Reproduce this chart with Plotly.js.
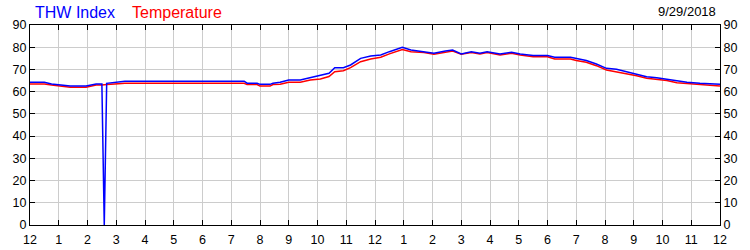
<!DOCTYPE html>
<html>
<head>
<meta charset="utf-8">
<script src="https://cdn.plot.ly/plotly-3.0.1.min.js"></script>
<style>html,body{margin:0;padding:0;background:#fff;}#chart{width:750px;height:250px;}</style>
</head>
<body>
<div id="chart"></div>
<script>
// hours since midnight
const hours = [0, 0.5, 0.75, 1.15, 1.4, 1.95, 2.15, 2.3, 2.5, 2.583, 2.667, 2.95, 3.3, 7.45, 7.55, 7.9, 8.0, 8.35, 8.45, 8.7,
  9.0, 9.4, 9.75, 10.1, 10.4, 10.6, 10.9, 11.15, 11.5, 11.85, 12.2, 12.5, 12.95, 13.25, 13.7, 14.05, 14.45, 14.7, 15.0, 15.35,
  15.65, 15.9, 16.35, 16.75, 17.05, 17.5, 18.0, 18.25, 18.8, 19.0, 19.35, 19.7, 20.05, 20.4, 20.75, 21.1, 21.45, 21.8, 22.15, 22.5,
  22.85, 23.3, 23.75, 24];
const thwIndex = [64.2, 64.2, 63.45, 63, 62.55, 62.55, 63, 63.45, 63.45, 0, 63.75, 64.2, 64.7, 64.7, 63.8, 63.8, 63.3, 63.3, 63.8, 64.2,
  65.25, 65.25, 66.3, 67.2, 68.3, 70.8, 70.8, 72, 75, 76, 76.5, 78, 80, 78.75, 78, 77.25, 78.3, 78.75, 77, 78,
  77.25, 78, 77, 77.7, 77, 76.3, 76.3, 75.5, 75.5, 74.9, 74, 72.45, 70.5, 70.1, 69, 68, 66.75, 66.3, 65.6, 65,
  64.2, 63.75, 63.45, 63.3];
const temperature = [63.45, 63.45, 63, 62.25, 62, 62, 62.55, 63, 63, 63, 63.2, 63.45, 63.8, 63.8, 63.2, 63.2, 62.5, 62.5, 63.2, 63.3,
  64.2, 64.2, 65.25, 65.7, 66.8, 69, 69.4, 70.8, 73.5, 74.7, 75.5, 77, 79, 78, 77.6, 76.8, 77.7, 78.3, 76.8, 77.6,
  77, 77.6, 76.5, 77.25, 76.5, 75.75, 75.75, 74.7, 74.7, 74, 73.2, 71.7, 69.75, 69, 68.25, 67.2, 66, 65.6, 65, 64.05,
  63.75, 63.3, 62.7, 62.5];
const xTickVals = [0,1,2,3,4,5,6,7,8,9,10,11,12,13,14,15,16,17,18,19,20,21,22,23,24];
const xTickText = ['12','1','2','3','4','5','6','7','8','9','10','11','12','1','2','3','4','5','6','7','8','9','10','11','12'];
const yTickVals = [0,10,20,30,40,50,60,70,80,90];
const dateLabel = '9/29/2018';

const font = 'Arial, "Liberation Sans", sans-serif';
const traces = [
  {x: hours, y: temperature, type: 'scatter', mode: 'lines', name: 'Temperature',
   line: {color: '#ff0000', width: 1.5}, showlegend: false, hoverinfo: 'skip'},
  {x: hours, y: thwIndex, type: 'scatter', mode: 'lines', name: 'THW Index',
   line: {color: '#0000ff', width: 1.5}, showlegend: false, hoverinfo: 'skip'},
  {x: hours, y: temperature, type: 'scatter', mode: 'lines', yaxis: 'y2',
   line: {color: 'rgba(0,0,0,0)', width: 0}, showlegend: false, hoverinfo: 'skip'}
];
const axisCommon = {
  showline: true, linecolor: '#000', linewidth: 1,
  ticks: 'inside', ticklen: 5, tickcolor: '#000', tickwidth: 1,
  showgrid: true, gridcolor: '#cccccc', gridwidth: 1, zeroline: false,
  tickfont: {family: font, size: 12.5, color: '#000'}
};
const layout = {
  width: 750, height: 250,
  margin: {l: 30, r: 30, t: 25, b: 25, pad: 0},
  paper_bgcolor: '#fff', plot_bgcolor: '#fff',
  xaxis: Object.assign({}, axisCommon, {range: [0, 24], tickmode: 'array', tickvals: xTickVals, ticktext: xTickText, mirror: 'ticks', ticklabelstandoff: 3}),
  yaxis: Object.assign({}, axisCommon, {range: [0, 90], tickmode: 'array', tickvals: yTickVals}),
  yaxis2: Object.assign({}, axisCommon, {range: [0, 90], tickmode: 'array', tickvals: yTickVals, overlaying: 'y', side: 'right', showgrid: false}),
  annotations: [
    {text: 'THW Index', xref: 'paper', yref: 'paper', x: 0.004, y: 1, yshift: 2, xanchor: 'left', yanchor: 'bottom', showarrow: false,
     font: {family: font, size: 16, color: '#0000ff'}},
    {text: 'Temperature', xref: 'paper', yref: 'paper', x: 0.145, y: 1, yshift: 2, xanchor: 'left', yanchor: 'bottom', showarrow: false,
     font: {family: font, size: 16, color: '#ff0000'}},
    {text: dateLabel, xref: 'paper', yref: 'paper', x: 0.997, y: 1, yshift: 4, xanchor: 'right', yanchor: 'bottom', showarrow: false,
     font: {family: font, size: 13, color: '#000'}}
  ]
};
Plotly.newPlot('chart', traces, layout, {staticPlot: true, displayModeBar: false});
</script>
</body>
</html>
